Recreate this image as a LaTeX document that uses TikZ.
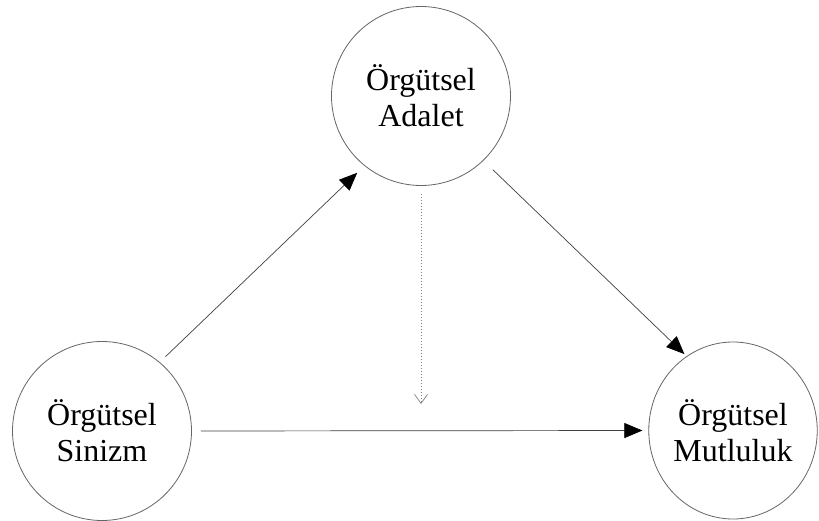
\documentclass[tikz,border=0pt]{standalone}
\usepackage{fontspec}
\setmainfont{Liberation Serif}
\usetikzlibrary{arrows.meta,shapes.geometric}
\begin{document}
\begin{tikzpicture}[x=1pt,y=-1pt,
  concept/.style={draw=black!60, line width=0.8pt, inner sep=0pt, align=center,
    text=black, font=\fontsize{32}{36}\selectfont},
  link/.style={draw=black!75, line width=0.7pt,
    -{Triangle[length=18pt,width=15pt,color=black]}},
  moderator/.style={draw=black!50, line width=1pt, dash pattern=on 1pt off 2pt,
    -{Straight Barb[length=9pt,width=13pt,line width=0.7pt]}}]
  \useasboundingbox (0,0) rectangle (819,521);
  \fill[white] (0,0) rectangle (819,521);

  % variables
  \node[concept, circle, minimum size=179pt] (cyn) at (102,431) {Örgütsel\\Sinizm};
  \node[concept, circle, minimum size=179pt] (adl) at (421,96) {Örgütsel\\Adalet};
  \node[concept, ellipse, minimum width=168pt, minimum height=177pt] (mut) at (733,430.5) {Örgütsel\\Mutluluk};

  % paths
  \draw[link, shorten <=8pt, shorten >=10pt] (cyn.50) -- (adl.231);
  \draw[link, shorten <=13pt, shorten >=3pt] (adl.314) -- (mut.122);
  \draw[link, shorten <=9pt, shorten >=6pt] (cyn.east) -- (mut.west);

  % moderating effect
  \coordinate (mod) at (421,404);
  \draw[moderator, shorten <=8pt] (adl.south) -- (mod);
\end{tikzpicture}
\end{document}
